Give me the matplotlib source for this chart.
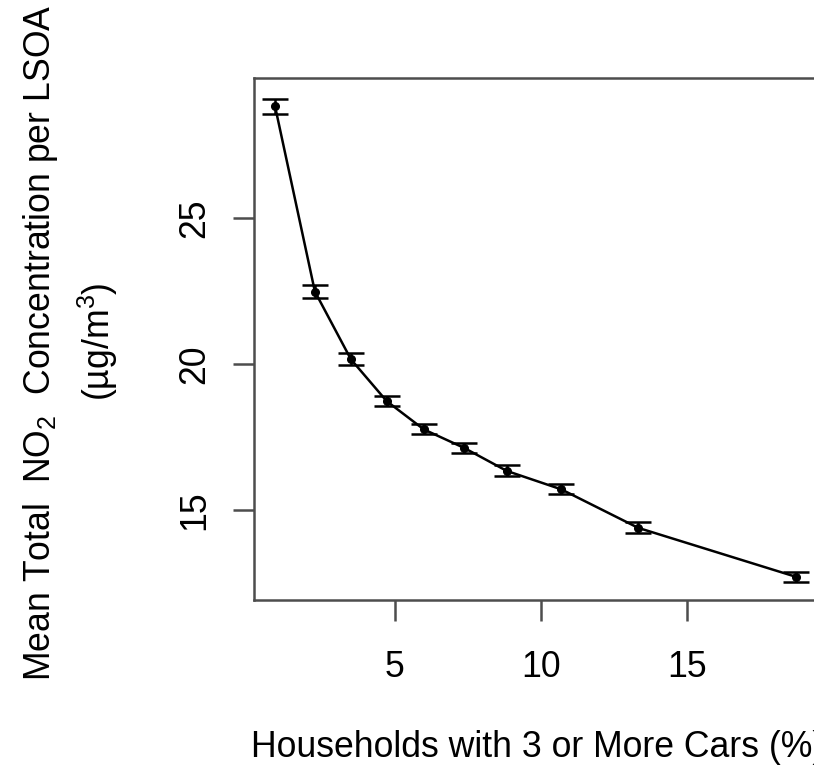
import numpy as np
import matplotlib
matplotlib.use("Agg")
import matplotlib.pyplot as plt

plt.rcParams['font.family'] = ['Liberation Sans', 'DejaVu Sans']
plt.rcParams['mathtext.fontset'] = 'custom'
plt.rcParams['mathtext.rm'] = 'Liberation Sans'
plt.rcParams['mathtext.it'] = 'Liberation Sans'

# mean NO2 by share of households with 3+ cars (binned), with standard errors
cars_pct = [0.92, 2.28, 3.51, 4.73, 6.00, 7.37, 8.83, 10.69, 13.32, 18.72]
no2_mean = [28.82, 22.48, 20.16, 18.73, 17.76, 17.13, 16.34, 15.71, 14.39, 12.71]
no2_err = [0.26, 0.23, 0.20, 0.17, 0.17, 0.17, 0.19, 0.17, 0.19, 0.17]

x_ticks = [5, 10, 15]
y_ticks = [15, 20, 25]

FS = 25.7
axis_col = "#4d4d4d"

fig = plt.figure(figsize=(8.14, 7.67), dpi=100)
ax = fig.add_axes([0.312, 0.2177, 0.6966, 0.6806])

ax.errorbar(cars_pct, no2_mean, yerr=no2_err, color="black", lw=1.8,
            marker="o", ms=5.5, capsize=9.7, capthick=1.8, elinewidth=1.8)

ax.set_xlim(0.2, 19.56)
ax.set_ylim(11.92, 29.79)
ax.set_xticks(x_ticks)
ax.set_yticks(y_ticks)
ax.set_xticklabels([str(t) for t in x_ticks], fontsize=FS)
ax.set_yticklabels([str(t) for t in y_ticks], fontsize=FS, rotation=90, va="center")

for s in ax.spines.values():
    s.set_color(axis_col)
    s.set_linewidth(1.8)
ax.tick_params(axis="both", direction="out", length=15, width=1.8, color=axis_col)
ax.tick_params(axis="x", pad=21)
ax.tick_params(axis="y", pad=15)

# axis titles, R style: each line centred on the plot region
fig.text(0.6603, 0.0253, "Households with 3 or More Cars (%)", fontsize=FS,
         ha="center", va="center")
fig.text(40.6 / 814, 1 - 343 / 767, r"Mean Total  NO$_2$  Concentration per LSOA",
         fontsize=FS, rotation=90, ha="center", va="center")
fig.text(98 / 814, 1 - 342 / 767, r"(µg/m$^3$)", fontsize=FS, rotation=90,
         ha="center", va="center")

fig.savefig("out.png", dpi=100)
